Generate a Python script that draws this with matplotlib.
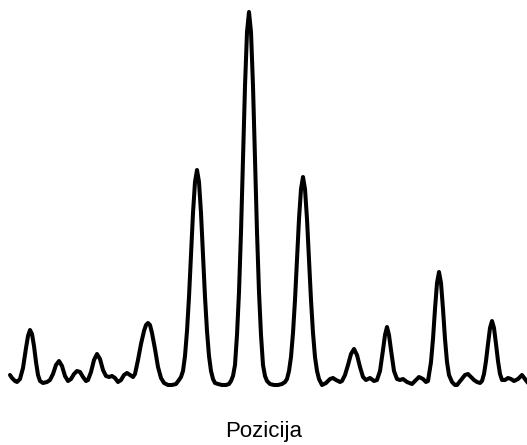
import matplotlib.pyplot as plt
import numpy as np

# intensity profile along the detector, sampled by hand
position = [
    10, 12, 15, 17, 20, 23, 26, 28, 30, 32, 34, 36, 38, 40, 43, 47, 50, 53, 56, 59,
    62, 65, 68, 71, 74, 77, 80, 83, 86, 88, 91, 94, 97, 100, 103, 106, 109, 112, 115, 118,
    121, 124, 127, 130, 133, 135, 138, 141, 144, 146, 148, 150, 152, 155, 158, 161, 164, 168, 172, 176,
    179, 181, 183, 185, 187, 189, 191, 193, 195, 197, 199, 201, 203, 205, 207, 209, 211, 213, 215, 218,
    222, 226, 229, 231, 233, 235, 237, 239, 241, 243, 245, 247, 249, 251, 253, 255, 257, 259, 261, 263,
    265, 267, 270, 274, 278, 282, 285, 287, 289, 291, 293, 295, 297, 299, 301, 303, 305, 307, 309, 311,
    313, 315, 317, 319, 322, 326, 330, 333, 336, 340, 342, 345, 348, 351, 354, 357, 360, 363, 366, 370,
    374, 377, 380, 383, 385, 387, 389, 391, 394, 397, 400, 403, 407, 412, 416, 419, 423, 426, 428, 431,
    433, 435, 437, 439, 441, 443, 445, 447, 449, 452, 455, 457, 461, 465, 468, 471, 474, 477, 480, 482,
    484, 486, 488, 490, 492, 494, 496, 498, 500, 502, 505, 508, 511, 514, 518, 522, 525, 528,
]
intensity = [
    10, 7, 4, 3, 6, 17, 37, 49, 55, 51, 39, 23, 10, 4, 2, 3, 5, 11, 20, 24,
    19, 9, 4, 6, 11, 14, 13, 8, 4, 5, 13, 25, 31, 26, 15, 9, 8, 9, 7, 3,
    5, 10, 12, 10, 8, 11, 25, 41, 54, 60, 62, 60, 52, 36, 18, 7, 2, 0, 0, 1,
    5, 8, 14, 29, 54, 88, 130, 172, 203, 215, 203, 172, 130, 88, 54, 29, 14, 6, 2, 1,
    0, 0, 1, 4, 9, 20, 50, 93, 153, 226, 299, 353, 373, 353, 299, 226, 153, 93, 50, 20,
    9, 4, 1, 0, 0, 1, 3, 6, 14, 28, 52, 85, 126, 166, 196, 208, 196, 166, 126, 85,
    52, 28, 14, 6, 0, 2, 6, 7, 5, 3, 4, 10, 20, 31, 36, 30, 18, 8, 5, 7,
    4, 5, 14, 35, 50, 58, 50, 35, 14, 6, 5, 6, 3, 1, 5, 8, 6, 3, 4, 23,
    46, 76, 102, 113, 102, 76, 46, 23, 10, 3, 0, 0, 5, 10, 11, 8, 5, 3, 2, 4,
    11, 24, 41, 57, 64, 57, 41, 24, 11, 5, 5, 7, 6, 4, 6, 10, 6, 2,
]

fig = plt.figure(figsize=(5.27, 4.45), dpi=100)
ax = fig.add_axes([0, 50 / 445, 1, 395 / 445])
ax.plot(np.array(position), np.array(intensity), color="black", lw=2.9,
        solid_joinstyle="round", solid_capstyle="round")
ax.set_xlim(0, 527)
ax.set_ylim(-10, 385)
for s in ax.spines.values():
    s.set_visible(False)
ax.set_xticks([])
ax.set_yticks([])
ax.set_xlabel("Pozicija", fontsize=16, family="Liberation Sans", labelpad=19)

fig.savefig("out.png", dpi=100)
